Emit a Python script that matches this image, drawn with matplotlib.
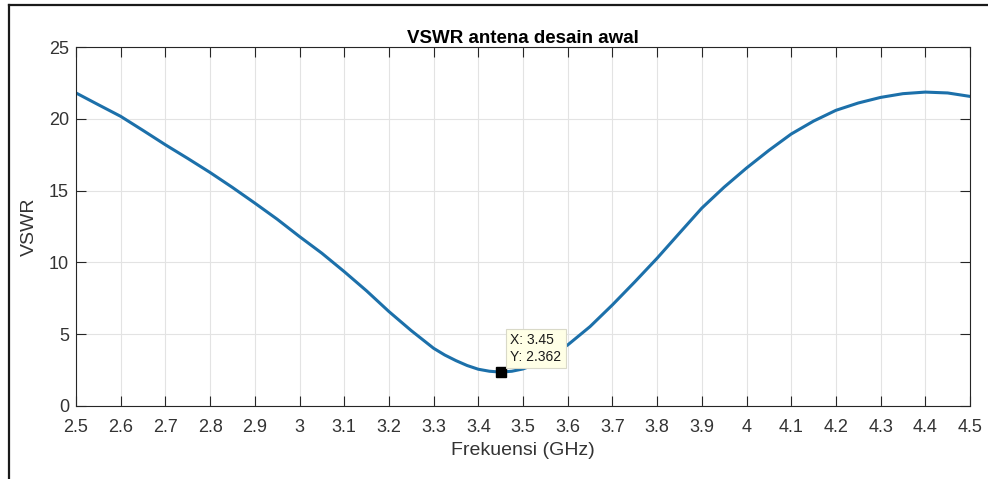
import matplotlib.pyplot as plt
from matplotlib.lines import Line2D

plt.rcParams['font.family'] = ['Liberation Sans', 'DejaVu Sans']

freq = [2.5, 2.55, 2.6, 2.65, 2.7, 2.75, 2.8, 2.85, 2.9, 2.95, 3.0, 3.05, 3.1,
        3.15, 3.2, 3.25, 3.3, 3.325, 3.35, 3.375, 3.4, 3.425, 3.45, 3.475,
        3.5, 3.525, 3.55, 3.575, 3.6, 3.65, 3.7, 3.75, 3.8, 3.85, 3.9, 3.95,
        4.0, 4.05, 4.1, 4.15, 4.2, 4.25, 4.3, 4.35, 4.4, 4.45, 4.5]
vswr = [21.8, 20.98, 20.17, 19.19, 18.19, 17.24, 16.26, 15.22, 14.13, 13.01,
        11.8, 10.64, 9.36, 8.02, 6.58, 5.25, 4.02, 3.55, 3.16, 2.82, 2.56,
        2.42, 2.362, 2.42, 2.58, 2.88, 3.3, 3.75, 4.25, 5.53, 7.04, 8.64,
        10.29, 12.04, 13.78, 15.24, 16.57, 17.8, 18.94, 19.84, 20.59, 21.1,
        21.49, 21.75, 21.86, 21.8, 21.56]
xticks = [2.5, 2.6, 2.7, 2.8, 2.9, 3.0, 3.1, 3.2, 3.3, 3.4, 3.5, 3.6, 3.7,
          3.8, 3.9, 4.0, 4.1, 4.2, 4.3, 4.4, 4.5]
xticklabels = ['2.5', '2.6', '2.7', '2.8', '2.9', '3', '3.1', '3.2', '3.3',
               '3.4', '3.5', '3.6', '3.7', '3.8', '3.9', '4', '4.1', '4.2',
               '4.3', '4.4', '4.5']
yticks = [0, 5, 10, 15, 20, 25]
tip_x, tip_y = 3.45, 2.362

fig = plt.figure(figsize=(9.88, 4.79), dpi=100)
ax = fig.add_axes([76 / 988, 1 - 406 / 479, 894 / 988, 359 / 479])

ax.plot(freq, vswr, color='#1c70aa', linewidth=2.2, solid_joinstyle='round',
        solid_capstyle='round')
ax.plot([tip_x], [tip_y], marker='s', color='black', markersize=7, linestyle='none')
ax.annotate('X: 3.45\nY: 2.362', xy=(tip_x, tip_y), xytext=(7, 6),
            textcoords='offset points', ha='left', va='bottom', fontsize=10,
            linespacing=1.25, color='#1a1a1a',
            bbox=dict(boxstyle='square,pad=0.3', fc='#FFFFE6', ec='#D9D9C8', lw=0.8))

ax.set_xlim(2.5, 4.5)
ax.set_ylim(0, 25)
ax.set_xticks(xticks)
ax.set_xticklabels(xticklabels)
ax.set_yticks(yticks)
ax.grid(True, color='#E3E3E3', linewidth=0.8)
ax.set_axisbelow(True)
ax.tick_params(direction='in', length=7, width=0.8, color='#262626',
               labelsize=13, labelcolor='#333333', top=True, right=True)
ax.tick_params(axis='x', pad=9)
ax.tick_params(axis='y', pad=5)
for s in ax.spines.values():
    s.set_color('#262626')
    s.set_linewidth(0.8)

ax.set_title('VSWR antena desain awal', fontsize=13.5, fontweight='bold', pad=3)
ax.set_xlabel('Frekuensi (GHz)', fontsize=14, color='#333333', labelpad=5)
ax.set_ylabel('VSWR', fontsize=14, color='#333333', labelpad=8)

# outer frame of the screenshot (top and left edges only)
fig.add_artist(Line2D([9 / 988, 1], [1 - 5 / 479, 1 - 5 / 479],
                      transform=fig.transFigure, color='#1a1a1a', linewidth=1.6))
fig.add_artist(Line2D([9 / 988, 9 / 988], [0, 1 - 5 / 479],
                      transform=fig.transFigure, color='#1a1a1a', linewidth=1.6))

fig.savefig('out.png', dpi=100)
